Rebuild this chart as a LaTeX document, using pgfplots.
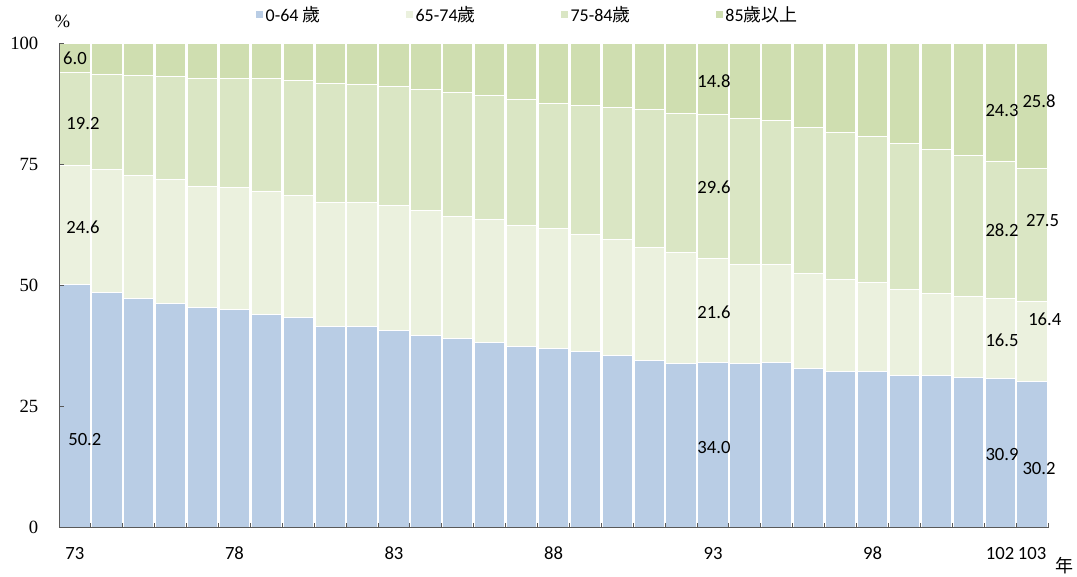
\documentclass[border=0pt]{standalone}
\usepackage{fontspec}
\setmainfont{Carlito}
\newfontfamily\tnr{Liberation Serif}
\newfontfamily\cjk{Noto Sans CJK TC}
\usepackage{pgfplots}
\usepackage{pgfplotstable}
\pgfplotsset{compat=1.18}
\definecolor{cA}{HTML}{B9CDE5}
\definecolor{cB}{HTML}{EBF1DE}
\definecolor{cC}{HTML}{DAE6C4}
\definecolor{cD}{HTML}{CFDEB0}
\definecolor{axc}{HTML}{595959}
\newcommand\lbl{\fontsize{14}{16}\selectfont}
\pgfplotstableread{
x a b c d
0 50.2 24.6 19.2 6.0
1 48.6 25.3 19.7 6.4
2 47.2 25.5 20.6 6.7
3 46.2 25.7 21.2 6.9
4 45.4 25.0 22.3 7.3
5 45.0 25.2 22.5 7.3
6 44.1 25.3 23.2 7.4
7 43.3 25.3 23.7 7.7
8 41.6 25.5 24.5 8.4
9 41.6 25.4 24.5 8.5
10 40.8 25.6 24.6 9.0
11 39.6 25.9 24.9 9.6
12 39.1 25.2 25.5 10.2
13 38.3 25.3 25.5 10.9
14 37.4 25.0 25.9 11.7
15 36.9 24.8 25.9 12.4
16 36.3 24.3 26.5 12.9
17 35.5 24.0 27.2 13.3
18 34.6 23.2 28.4 13.8
19 33.9 22.8 28.8 14.5
20 34.0 21.6 29.6 14.8
21 33.8 20.6 30.0 15.6
22 34.2 20.1 29.8 15.9
23 32.8 19.7 30.1 17.4
24 32.2 19.1 30.2 18.5
25 32.2 18.5 30.0 19.3
26 31.5 17.7 30.0 20.8
27 31.5 16.8 29.7 22.0
28 31.1 16.7 28.9 23.3
29 30.9 16.5 28.2 24.3
30 30.2 16.4 27.5 25.8
}\data
\begin{document}
\begin{tikzpicture}
\path[use as bounding box] (0,0) rectangle (807.75pt,432pt);
\begin{axis}[
  axis on top,
  at={(44.25pt,36.15pt)}, anchor=south west,
  scale only axis, width=741.75pt, height=363.6pt,
  xmin=-0.5, xmax=30.5, ymin=0, ymax=100,
  ybar stacked, bar width=0.95,
  clip=false,
  axis lines*=left,
  axis line style={draw=axc, line width=0.75pt},
  tick align=inside, major tick length=3.5pt,
  tick style={draw=axc, line width=0.75pt},
  xtick={-0.5,0.5,...,30.5}, xticklabels={},
  extra x ticks={0,5,10,15,20,25,29,30},
  extra x tick labels={73,78,83,88,93,98,102,103},
  extra x tick style={major tick length=0pt},
  xticklabel style={font=\lbl, yshift=-11pt},
  ytick={0,25,50,75,100},
  yticklabel style={font=\tnr\fontsize{14}{16}\selectfont, xshift=-12pt},
  /pgf/number format/assume math mode=true,
  legend columns=4,
  legend style={at={(0.195,1.058)}, anchor=west, draw=none, fill=none,
    font=\fontsize{13.5}{15}\selectfont,
    /tikz/every even column/.append style={column sep=62pt}},
  legend image code/.code={\fill[#1, draw=none] (0pt,-2.6pt) rectangle (5.2pt,2.6pt);},
]
\addplot[fill=cA, draw=white, line width=0.75pt] table[x=x,y=a]{\data};
\addlegendentry{0-64 {\cjk 歲}}
\addplot[fill=cB, draw=white, line width=0.75pt] table[x=x,y=b]{\data};
\addlegendentry{65-74{\cjk 歲}}
\addplot[fill=cC, draw=white, line width=0.75pt] table[x=x,y=c]{\data};
\addlegendentry{75-84{\cjk 歲}}
\addplot[fill=cD, draw=white, line width=0.75pt] table[x=x,y=d]{\data};
\addlegendentry{85{\cjk 歲以上}}
\coordinate (L1) at (axis cs:0,96.9);
\coordinate (L2) at (axis cs:0.25,83.4);
\coordinate (L3) at (axis cs:0.25,62.0);
\coordinate (L4) at (axis cs:0.31,18.2);
\coordinate (L5) at (axis cs:20.03,92.2);
\coordinate (L6) at (axis cs:20.03,70.2);
\coordinate (L7) at (axis cs:20.03,44.4);
\coordinate (L8) at (axis cs:20.03,16.5);
\coordinate (L9) at (axis cs:29.06,86.0);
\coordinate (L10) at (axis cs:29.06,61.4);
\coordinate (L11) at (axis cs:29.06,38.7);
\coordinate (L12) at (axis cs:29.06,15.2);
\coordinate (L13) at (axis cs:30.22,88.0);
\coordinate (L14) at (axis cs:30.33,63.3);
\coordinate (L15) at (axis cs:30.4,43.0);
\coordinate (L16) at (axis cs:30.22,12.3);
\coordinate (Lp) at (rel axis cs:0.0035,1.045);
\coordinate (Ly) at (rel axis cs:1.017,-0.079);
\end{axis}
\node[font=\lbl] at (L1) {6.0};
\node[font=\lbl] at (L2) {19.2};
\node[font=\lbl] at (L3) {24.6};
\node[font=\lbl] at (L4) {50.2};
\node[font=\lbl] at (L5) {14.8};
\node[font=\lbl] at (L6) {29.6};
\node[font=\lbl] at (L7) {21.6};
\node[font=\lbl] at (L8) {34.0};
\node[font=\lbl] at (L9) {24.3};
\node[font=\lbl] at (L10) {28.2};
\node[font=\lbl] at (L11) {16.5};
\node[font=\lbl] at (L12) {30.9};
\node[font=\lbl] at (L13) {25.8};
\node[font=\lbl] at (L14) {27.5};
\node[font=\lbl] at (L15) {16.4};
\node[font=\lbl] at (L16) {30.2};
\node[font=\tnr\fontsize{14}{16}\selectfont] at (Lp) {\%};
\node[font=\cjk\fontsize{13.5}{16}\selectfont] at (Ly) {年};
\end{tikzpicture}
\end{document}
